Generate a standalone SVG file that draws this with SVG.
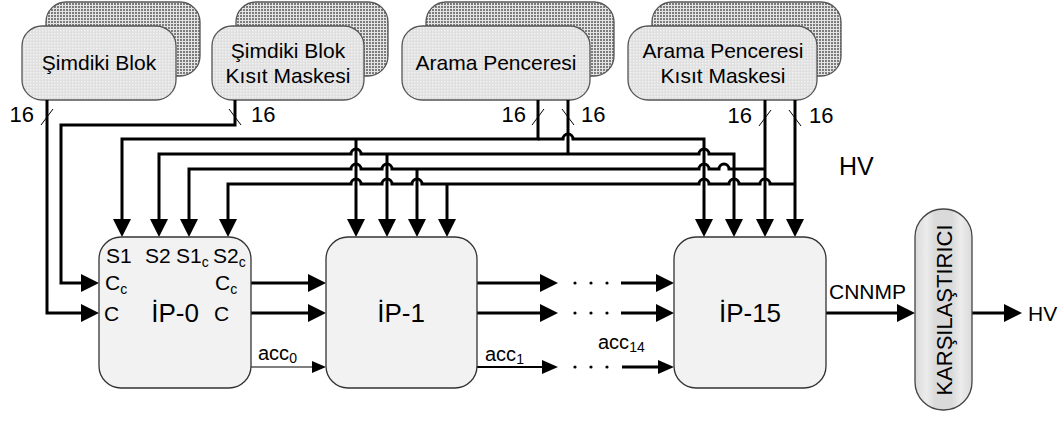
<svg xmlns="http://www.w3.org/2000/svg" width="1064" height="421" viewBox="0 0 1064 421">
<style>
text{font-family:"Liberation Sans",Arial,sans-serif;fill:#000}
.bt{font-size:21px;text-anchor:middle}
.lb{font-size:21px}
.ip{font-size:26px;text-anchor:middle}
.n16{font-size:22px}
.acc{font-size:20px}
.shadow{fill:url(#dots);stroke:#555;stroke-width:1.3}
.front{fill:url(#light);stroke:#555;stroke-width:1.3}
.ipbox{fill:#f2f2f2;stroke:#333;stroke-width:1.3}
.w{fill:none;stroke:#000;stroke-width:3;stroke-linejoin:miter}
.bus{fill:none;stroke:#000;stroke-width:3;marker-end:url(#ah);marker-start:url(#ahr)}
.down{fill:none;stroke:#000;stroke-width:3;marker-end:url(#ah)}
.slash{stroke:#000;stroke-width:1}
.dot{fill:#000}
</style>
<defs>
<pattern id="dots" width="3" height="3" patternUnits="userSpaceOnUse">
<rect width="3" height="3" fill="#e4e4e4"/>
<rect width="2" height="2" fill="#7c7c7c"/>
</pattern>
<pattern id="light" width="3" height="3" patternUnits="userSpaceOnUse">
<rect width="3" height="3" fill="#e0e0e0"/>
<rect width="1.5" height="1.5" fill="#f3f3f3"/>
</pattern>
<linearGradient id="cmpfill" x1="0" y1="0" x2="1" y2="0">
<stop offset="0" stop-color="#dadada"/>
<stop offset="0.2" stop-color="#ececec"/>
<stop offset="0.35" stop-color="#dadada"/>
<stop offset="0.65" stop-color="#dadada"/>
<stop offset="0.8" stop-color="#ececec"/>
<stop offset="1" stop-color="#dadada"/>
</linearGradient>
<marker id="ah" viewBox="0 0 18 18" markerWidth="18" markerHeight="18" refX="6" refY="9" orient="auto" markerUnits="userSpaceOnUse">
<path d="M0,0 L18,9 L0,18 z" fill="#000"/>
</marker>
<marker id="ahr" viewBox="0 0 18 18" markerWidth="18" markerHeight="18" refX="6" refY="9" orient="auto-start-reverse" markerUnits="userSpaceOnUse">
<path d="M0,0 L18,9 L0,18 z" fill="#000"/>
</marker>
<marker id="ahm" viewBox="0 0 16 14" markerWidth="16" markerHeight="14" refX="4" refY="7" orient="auto" markerUnits="userSpaceOnUse">
<path d="M0,0 L16,7 L0,14 z" fill="#000"/>
</marker>
<marker id="ahs" viewBox="0 0 14 12" markerWidth="14" markerHeight="12" refX="4" refY="6" orient="auto" markerUnits="userSpaceOnUse">
<path d="M0,0 L14,6 L0,12 z" fill="#000"/>
</marker>
</defs>

<g id="simdiki-blok">
<rect class="shadow" x="46" y="2" width="154" height="74" rx="20"/>
<rect class="front" x="22" y="26" width="154" height="74" rx="20"/>
<text class="bt" x="99" y="70">Şimdiki Blok</text>
</g>
<g id="simdiki-blok-kisit">
<rect class="shadow" x="236" y="2" width="152" height="74" rx="20"/>
<rect class="front" x="212" y="26" width="152" height="74" rx="20"/>
<text class="bt" x="288" y="58">Şimdiki Blok</text>
<text class="bt" x="288" y="83">Kısıt Maskesi</text>
</g>
<g id="arama-penceresi">
<rect class="shadow" x="426" y="2" width="188" height="74" rx="20"/>
<rect class="front" x="402" y="26" width="188" height="74" rx="20"/>
<text class="bt" x="496" y="70">Arama Penceresi</text>
</g>
<g id="arama-penceresi-kisit">
<rect class="shadow" x="652" y="2" width="189" height="74" rx="20"/>
<rect class="front" x="628" y="26" width="189" height="74" rx="20"/>
<text class="bt" x="723" y="58">Arama Penceresi</text>
<text class="bt" x="723" y="83">Kısıt Maskesi</text>
</g>

<g id="connectors">
<!-- inputs from current block -->
<path class="down" d="M47,100 V313 H87"/>
<path class="down" d="M235,100 V125 H61 V283 H87"/>
<!-- bus 1 (S1) -->
<path class="down" d="M538,100 V139 H122 V225"/>
<path class="down" d="M538,139 H563 a5,5 0 0 1 10,0 H704 V225"/>
<path class="down" d="M356,139 V225"/>
<!-- bus 2 (S2) -->
<path class="w" d="M568,100 V154"/>
<path class="bus" d="M159,225 V154 H351 a5,5 0 0 1 10,0 H699 a5,5 0 0 1 10,0 H734 V225"/>
<path class="down" d="M387,154 V225"/>
<!-- bus 3 (S1c) -->
<path class="down" d="M765,100 V225"/>
<path class="down" d="M765,169 H729 a5,5 0 0 0 -10,0 H709 a5,5 0 0 0 -10,0 H392 a5,5 0 0 0 -10,0 H361 a5,5 0 0 0 -10,0 H189 V225"/>
<path class="down" d="M417,169 V225"/>
<!-- bus 4 (S2c) -->
<path class="down" d="M795,100 V225"/>
<path class="down" d="M795,184 H770 a5,5 0 0 0 -10,0 H739 a5,5 0 0 0 -10,0 H709 a5,5 0 0 0 -10,0 H422 a5,5 0 0 0 -10,0 H392 a5,5 0 0 0 -10,0 H361 a5,5 0 0 0 -10,0 H228 V225"/>
<path class="down" d="M447,184 V225"/>
<!-- bus width marks -->
<line class="slash" x1="41" y1="125" x2="53" y2="109"/>
<line class="slash" x1="229" y1="109" x2="241" y2="125"/>
<line class="slash" x1="532" y1="125" x2="544" y2="109"/>
<line class="slash" x1="562" y1="109" x2="574" y2="125"/>
<line class="slash" x1="759" y1="126" x2="771" y2="110"/>
<line class="slash" x1="789" y1="110" x2="801" y2="126"/>
<!-- stage-to-stage -->
<path class="down" d="M251,283 H314"/>
<path class="down" d="M251,313 H314"/>
<path d="M251,367 H316" fill="none" stroke="#555" stroke-width="1.4" marker-end="url(#ahs)"/>
<path class="down" d="M477,283 H546"/>
<path class="down" d="M477,313 H546"/>
<path d="M477,367 H546" fill="none" stroke="#000" stroke-width="2" marker-end="url(#ahm)"/>
<circle class="dot" cx="575" cy="283" r="1.6"/><circle class="dot" cx="591" cy="283" r="1.6"/><circle class="dot" cx="607" cy="283" r="1.6"/>
<circle class="dot" cx="575" cy="313" r="1.6"/><circle class="dot" cx="591" cy="313" r="1.6"/><circle class="dot" cx="607" cy="313" r="1.6"/>
<circle class="dot" cx="575" cy="367" r="1.6"/><circle class="dot" cx="591" cy="367" r="1.6"/><circle class="dot" cx="607" cy="367" r="1.6"/>
<path class="down" d="M621,283 H662"/>
<path class="down" d="M621,313 H662"/>
<path d="M622,367 H662" fill="none" stroke="#000" stroke-width="3" marker-end="url(#ahm)"/>
<path class="down" d="M826,313 H903"/>
<path class="down" d="M972,313 H1010"/>
</g>

<g id="labels">
<text class="n16" x="34" y="122" text-anchor="end">16</text>
<text class="n16" x="251" y="122">16</text>
<text class="n16" x="526" y="122" text-anchor="end">16</text>
<text class="n16" x="581" y="122">16</text>
<text class="n16" x="752" y="123" text-anchor="end">16</text>
<text class="n16" x="809" y="123">16</text>
<text x="839" y="175" font-size="25">HV</text>
<text class="acc" x="258" y="360">acc<tspan font-size="14" dy="3">0</tspan></text>
<text class="acc" x="485" y="361">acc<tspan font-size="14" dy="3">1</tspan></text>
<text class="acc" x="598" y="349">acc<tspan font-size="14" dy="3">14</tspan></text>
<text class="lb" x="829" y="299">CNNMP</text>
<text class="lb" x="1028" y="321">HV</text>
</g>

<g id="ip-0">
<rect class="ipbox" x="99" y="237" width="152" height="151" rx="22"/>
<text class="lb" x="106" y="263">S1</text>
<text class="lb" x="145" y="263">S2</text>
<text class="lb" x="176" y="263">S1<tspan font-size="14" dy="4">c</tspan></text>
<text class="lb" x="213" y="263">S2<tspan font-size="14" dy="4">c</tspan></text>
<text class="lb" x="105" y="290">C<tspan font-size="14" dy="4">c</tspan></text>
<text class="lb" x="104" y="321">C</text>
<text class="lb" x="215" y="290">C<tspan font-size="14" dy="4">c</tspan></text>
<text class="lb" x="214" y="321">C</text>
<text class="ip" x="175" y="322">İP-0</text>
</g>
<g id="ip-1">
<rect class="ipbox" x="326" y="237" width="151" height="151" rx="22"/>
<text class="ip" x="401" y="322">İP-1</text>
</g>
<g id="ip-15">
<rect class="ipbox" x="674" y="237" width="152" height="151" rx="22"/>
<text class="ip" x="750" y="322">İP-15</text>
</g>
<g id="karsilastirici">
<rect x="915" y="209" width="57" height="201" rx="28" fill="url(#cmpfill)" stroke="#444" stroke-width="1.3"/>
<text x="0" y="0" font-size="22" text-anchor="middle" transform="translate(952,310) rotate(-90)">KARŞILAŞTIRICI</text>
</g>
</svg>
